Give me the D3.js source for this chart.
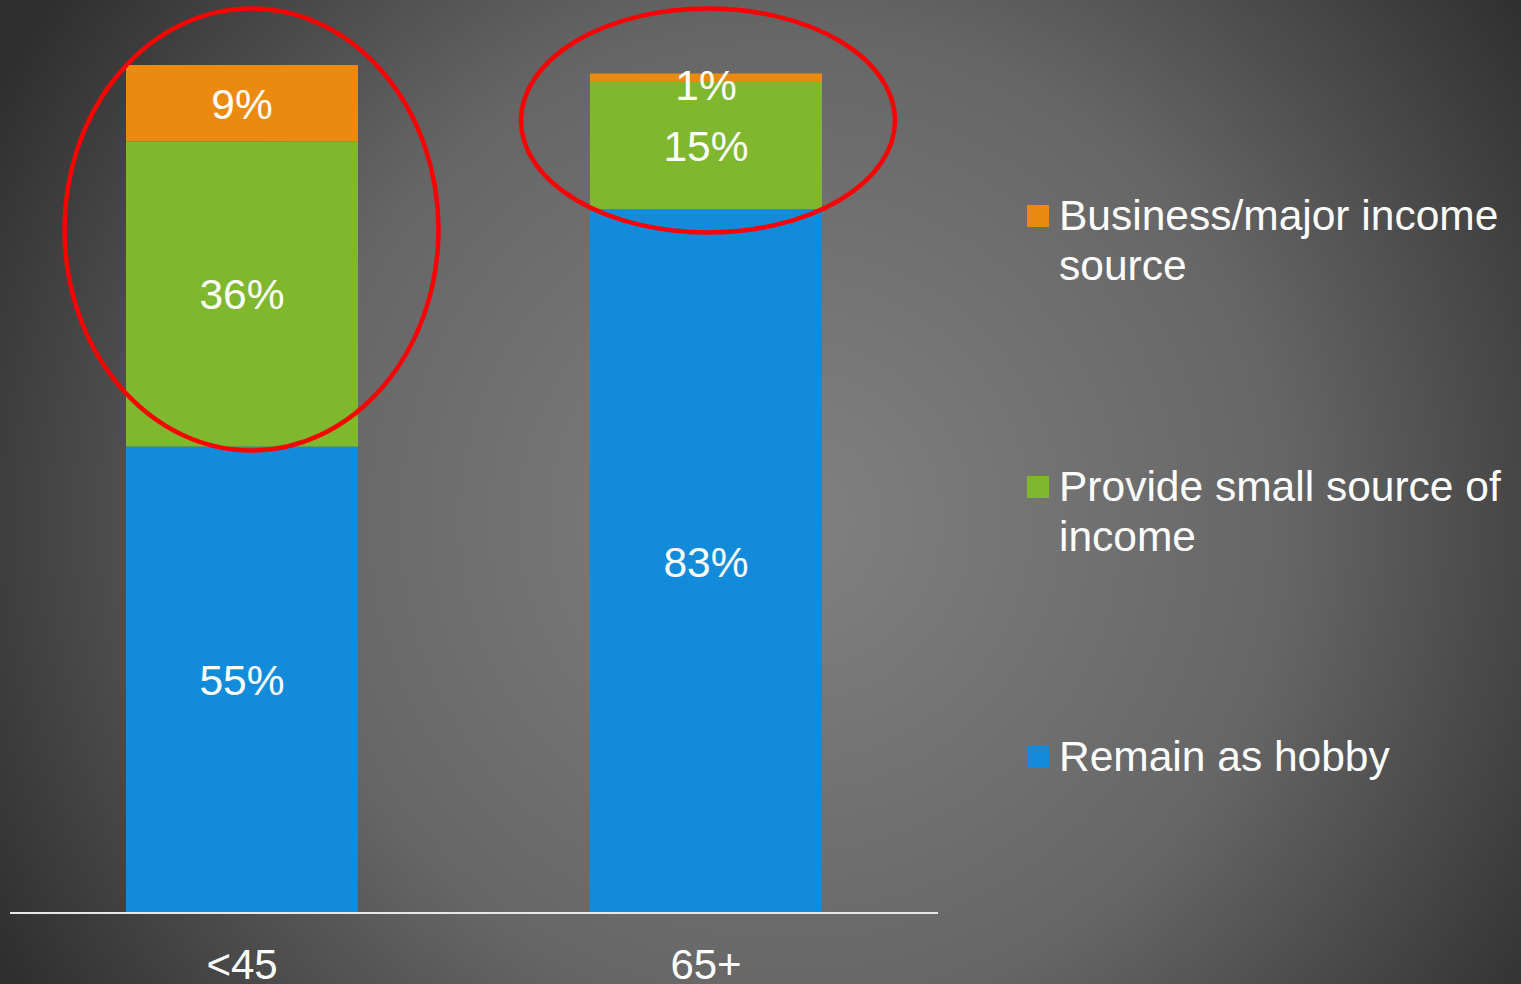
<!DOCTYPE html>
<html>
<head>
<meta charset="utf-8">
<script src="https://cdn.jsdelivr.net/npm/d3@7"></script>
<style>
  html, body { margin: 0; padding: 0; overflow: hidden; background: #333; }
  svg { display: block; font-family: "Liberation Sans", Arial, sans-serif; }
</style>
</head>
<body>
<svg id="chart" width="1521" height="984"></svg>
<script>
// Age groups and share (%) of each outcome
const categories = ["<45", "65+"];
const seriesNames = ["Remain as hobby", "Provide small source of income", "Business/major income source"];
const hobby = [55, 83];
const smallIncome = [36, 15];
const business = [9, 1];
const seriesColors = ["#128bdb", "#7fb72f", "#eb8a10"];
const legendLines = [["Business/major income", "source"], ["Provide small source of", "income"], ["Remain as hobby"]];

const W = 1521, H = 984;
const svg = d3.select("#chart");

// Soft radial backdrop
const defs = svg.append("defs");
const grad = defs.append("radialGradient").attr("id", "bg")
  .attr("gradientUnits", "userSpaceOnUse")
  .attr("cx", 790).attr("cy", 520).attr("r", 900);
grad.append("stop").attr("offset", "0").attr("stop-color", "#818181");
grad.append("stop").attr("offset", "0.55").attr("stop-color", "#666666");
grad.append("stop").attr("offset", "1").attr("stop-color", "#2f2f2f");
svg.append("rect").attr("width", W).attr("height", H).attr("fill", "url(#bg)");

const x = d3.scaleBand().domain(categories).range([10, 938]).paddingInner(0.5).paddingOuter(0.25);
const y = d3.scaleLinear().domain([0, 100]).range([913, 65]);

const rows = categories.map((c, i) => ({ cat: c, s0: hobby[i], s1: smallIncome[i], s2: business[i] }));
const stacked = d3.stack().keys(["s0", "s1", "s2"])(rows);

const g = svg.append("g");
stacked.forEach((layer, li) => {
  g.selectAll(null).data(layer).join("rect")
    .attr("x", d => x(d.data.cat))
    .attr("width", x.bandwidth())
    .attr("y", d => y(d[1]))
    .attr("height", d => y(d[0]) - y(d[1]))
    .attr("fill", seriesColors[li]);
});

// Value labels centred in each segment
const fs = 42.5;
stacked.forEach(layer => {
  g.selectAll(null).data(layer).join("text")
    .attr("x", d => x(d.data.cat) + x.bandwidth() / 2)
    .attr("y", d => {
      const mid = (y(d[0]) + y(d[1])) / 2 + 15.5;
      return Math.max(mid, y(d[1]) + 27);
    })
    .attr("text-anchor", "middle")
    .attr("fill", "#ffffff")
    .attr("font-size", fs)
    .text(d => (d[1] - d[0]) + "%");
});

// Baseline
svg.append("line").attr("x1", 10).attr("x2", 938).attr("y1", 913).attr("y2", 913)
  .attr("stroke", "#e8e8e8").attr("stroke-width", 2);

// Category labels
svg.selectAll(".cat").data(categories).join("text")
  .attr("x", d => x(d) + x.bandwidth() / 2)
  .attr("y", 979)
  .attr("text-anchor", "middle")
  .attr("fill", "#ffffff")
  .attr("font-size", 42)
  .text(d => d);

// Legend (top to bottom: business, small income, hobby)
const legendY = [216, 487, 757];
const legend = svg.append("g");
[2, 1, 0].forEach((si, k) => {
  const cy = legendY[k];
  legend.append("rect").attr("x", 1027).attr("y", cy - 11).attr("width", 22).attr("height", 22)
    .attr("fill", seriesColors[si]);
  const t = legend.append("text").attr("x", 1059).attr("y", cy + 14)
    .attr("fill", "#ffffff").attr("font-size", fs);
  legendLines[k].forEach((ln, j) => {
    t.append("tspan").attr("x", 1059).attr("dy", j === 0 ? 0 : 50).text(ln);
  });
});

// Highlight rings
const rings = [
  { cx: 251.5, cy: 229.5, rx: 187, ry: 221 },
  { cx: 708, cy: 120.5, rx: 187, ry: 112 }
];
svg.selectAll(".ring").data(rings).join("ellipse")
  .attr("cx", d => d.cx).attr("cy", d => d.cy)
  .attr("rx", d => d.rx).attr("ry", d => d.ry)
  .attr("fill", "none").attr("stroke", "#ff0000").attr("stroke-width", 4.5);
</script>
</body>
</html>
